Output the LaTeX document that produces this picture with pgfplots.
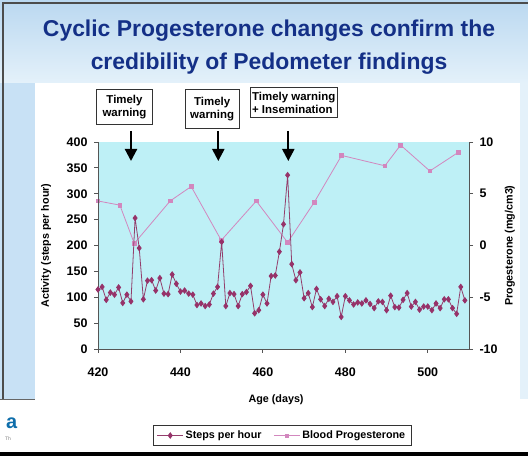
\documentclass[border=0pt]{standalone}
\usepackage{pgfplots}
\pgfplotsset{compat=1.18}
\usepackage{fontspec}
\setmainfont{Liberation Sans}
\usetikzlibrary{arrows.meta}
\definecolor{plotbg}{RGB}{190,240,246}
\definecolor{stepc}{RGB}{150,50,105}
\definecolor{progc}{RGB}{210,135,190}
\definecolor{titleblue}{RGB}{20,48,135}
\definecolor{slidetop}{RGB}{186,216,240}
\definecolor{slidebot}{RGB}{228,241,250}
\definecolor{strip}{RGB}{200,225,245}
\definecolor{axisgray}{RGB}{85,85,85}
\newcommand{\tl}{\bfseries\fontsize{12.5}{13}\selectfont}
\newcommand{\lb}{\bfseries\fontsize{10.8}{12}\selectfont}
\pgfplotstableread{
day val
420 115
421 120
422 95
423 109
424 105
425 119
426 89
427 105
428 92
429 253
430 195
431 96
432 132
433 133
434 113
435 137
436 107
437 106
438 144
439 126
440 111
441 113
442 107
443 105
444 85
445 88
446 83
447 86
448 107
449 120
450 207
451 83
452 108
453 106
454 83
455 106
456 110
457 122
458 69
459 75
460 105
461 88
462 141
463 142
464 188
465 241
466 336
467 164
468 133
469 148
470 98
471 108
472 81
473 116
474 96
475 83
476 97
477 91
478 102
479 62
480 102
481 94
482 86
483 90
484 88
485 94
486 87
487 79
488 92
489 91
490 75
491 103
492 81
493 80
494 95
495 108
496 82
497 91
498 76
499 82
500 82
501 75
502 88
503 79
504 96
505 96
506 79
507 68
508 120
509 94
}\steps
\pgfplotstableread{
day val
420 4.3
425.3 3.9
428.8 0.2
437.5 4.3
442.6 5.7
449.9 0.5
458.4 4.3
466.0 0.3
472.5 4.2
479.1 8.7
489.6 7.7
493.4 9.7
500.5 7.2
507.4 9.0
}\prog
\begin{document}
\begin{tikzpicture}[x=1bp,y=1bp]
% slide background
\fill[white] (0,0) rectangle (528,456);
\shade[top color=slidetop, bottom color=slidebot] (0,373) rectangle (528,456);
\fill[strip] (0,57) rectangle (35,373);
\fill[slidebot] (520,57) rectangle (528,373);
\fill[white] (35,8) rectangle (520,372);
\fill[black] (0,0) rectangle (528,4);
\draw[black!70, line width=1.2] (3,57) -- (3,453) -- (528,453);
\draw[black!60, line width=0.6] (0,57) -- (35,57);
% title
\node[align=center, text=titleblue, font=\bfseries\fontsize{23}{32.6}\selectfont, anchor=base] at (269,386.7) {Cyclic Progesterone changes confirm the\\credibility of Pedometer findings};
% footer remnants
\node[text=titleblue!70!cyan, font=\bfseries\fontsize{20}{20}\selectfont, anchor=base west, inner sep=0] at (6,27) {a};
\node[text=black!50, font=\fontsize{5}{5}\selectfont, anchor=base west, inner sep=0] at (5,15) {Th};

\begin{axis}[
  at={(98bp,107bp)}, anchor=south west, scale only axis,
  width=371bp, height=207bp,
  xmin=420, xmax=510, ymin=-10, ymax=10,
  axis x line=none, axis y line*=right,
  axis background/.style={fill=plotbg},
  ytick={-10,-5,0,5,10},
  tick align=outside, major tick length=4bp,
  axis line style={axisgray, line width=0.8bp},
  every tick/.style={axisgray, line width=0.8bp},
  /pgf/number format/assume math mode=true,
  ticklabel style={font=\tl},
  yticklabel style={xshift=3bp},
  ylabel={Progesterone (mg/cm3)},
  ylabel style={font=\lb, at={(axis description cs:1.11,0.5)}, anchor=center, rotate=0},
  clip=false,
]
\addplot[progc, line width=0.8bp, mark=square*, mark size=1.9pt, mark options={fill=progc, draw=progc}] table[x=day, y=val] {\prog};
\end{axis}

\begin{axis}[
  at={(98bp,107bp)}, anchor=south west, scale only axis,
  width=371bp, height=207bp,
  xmin=420, xmax=510, ymin=0, ymax=400,
  axis x line*=bottom, axis y line*=left,
  xtick={420,440,...,500}, ytick={0,50,...,400},
  tick align=outside, major tick length=4bp,
  axis line style={axisgray, line width=0.8bp},
  every tick/.style={axisgray, line width=0.8bp},
  /pgf/number format/assume math mode=true,
  /pgf/number format/1000 sep={},
  ticklabel style={font=\tl},
  xticklabel style={yshift=-11bp},
  yticklabel style={xshift=-3bp},
  xlabel={Age (days)},
  xlabel style={font=\lb, at={(axis description cs:0.48,-0.246)}, anchor=center},
  ylabel={Activity (steps per hour)},
  ylabel style={font=\lb, at={(axis description cs:-0.14,0.5)}, anchor=center},
  legend columns=2,
  legend style={at={(0.496,-0.418)}, anchor=center, font=\lb, draw=black!80, line width=0.6bp, inner xsep=4bp, inner ysep=3.5bp,
    /tikz/every even column/.append style={column sep=10bp}},
  legend image code/.code={\draw[mark repeat=2,mark phase=2,#1] plot coordinates {(0bp,0bp) (13bp,0bp) (26bp,0bp)};},
  clip=false,
]
\addplot[stepc!85!gray, line width=0.8bp, mark=diamond*, mark size=2.7pt, mark options={fill=stepc, draw=stepc, scale=1}] table[x=day, y=val] {\steps};
\addlegendentry{Steps per hour}
\addlegendimage{progc, line width=0.8bp, mark=square*, mark size=1.6pt, mark options={fill=progc, draw=progc}}
\addlegendentry{Blood Progesterone}
\end{axis}

% annotations
\begin{scope}[font=\bfseries\fontsize{11.5}{13}\selectfont]
\node[draw=black!80, fill=white, line width=0.8, minimum width=55.6bp, minimum height=35bp, align=center, inner sep=1bp] at (124.5,349.2) {Timely\\warning};
\node[draw=black!80, fill=white, line width=0.8, minimum width=54.3bp, minimum height=39bp, align=center, inner sep=1bp] at (212.2,347.2) {Timely\\warning};
\node[draw=black!80, fill=white, line width=0.8, minimum width=87.3bp, minimum height=30.4bp, align=left, inner sep=1bp] at (293.7,353.5) {Timely warning\\+ Insemination};
\end{scope}
\foreach \xx in {131,218.3,288.3}{
  \draw[black, line width=2.2bp, -{Triangle[width=12bp,length=12bp]}] (\xx,325) -- (\xx,295);
}
\pgfresetboundingbox
\path[use as bounding box] (0,0) rectangle (528,456);
\end{tikzpicture}
\end{document}
